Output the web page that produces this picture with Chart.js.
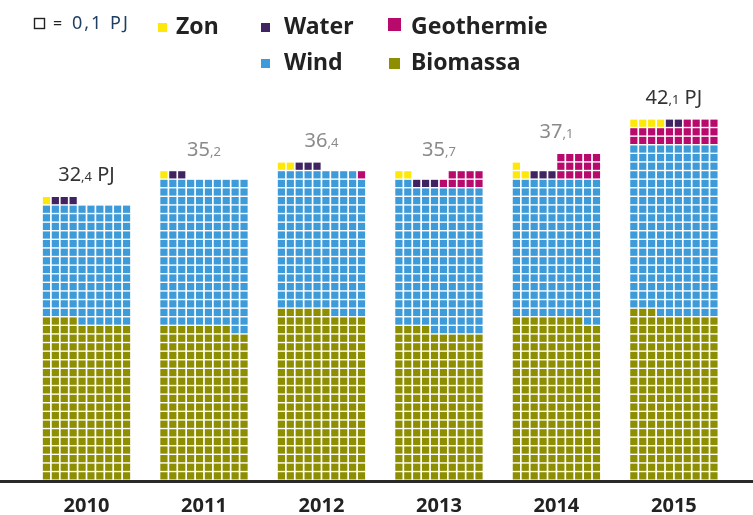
<!DOCTYPE html>
<html><head><meta charset="utf-8">
<script src="https://cdn.jsdelivr.net/npm/chart.js@4/dist/chart.umd.min.js"></script>
<style>html,body{margin:0;padding:0;background:#fff;}#wrap{position:relative;width:753px;height:515px;}</style>
</head><body><div id="wrap"><canvas id="c" width="753" height="515"></canvas></div>
<script>
// ---- data (PJ) ----
const years = ['2010', '2011', '2012', '2013', '2014', '2015'];
const totalLabels = ['32,4 PJ', '35,2', '36,4', '35,7', '37,1', '42,1 PJ'];
const biomassa   = [18.4, 17.8, 19.6, 17.4, 18.8, 19.3];
const wind       = [13.6, 17.2, 16.3, 16.8, 16.2, 19.7];
const geothermie = [0.0, 0.0, 0.1, 0.9, 1.5, 2.4];
const water      = [0.3, 0.2, 0.3, 0.3, 0.3, 0.2];
const zon        = [0.1, 0.1, 0.2, 0.2, 0.3, 0.4];
const cellValue = 0.1; // one square = 0,1 PJ

// ---- waffle layout (derived from the values) ----
const COLS = 10, GAP = 13.2;
function layoutYear(i) {
  const occ = {};
  const out = { bio: [], wind: [], geo: [], water: [], zon: [] };
  const n = v => Math.round(v / cellValue);
  const put = (arr, r, c) => { occ[r * COLS + c] = true; arr.push({ r, c }); };
  let k = 0;
  for (let j = 0; j < n(biomassa[i]); j++, k++) put(out.bio, Math.floor(k / COLS), k % COLS);
  for (let j = 0; j < n(wind[i]); j++, k++) put(out.wind, Math.floor(k / COLS), k % COLS);
  const base = Math.floor(k / COLS);
  let g = n(geothermie[i]); const gw = g >= 20 ? 10 : 5; let r = base;
  while (g > 0) { for (let c = COLS - 1; c >= COLS - gw && g > 0; c--) if (!occ[r * COLS + c]) { put(out.geo, r, c); g--; } r++; }
  let z = n(zon[i]); const zw = z >= 4 ? 4 : 2; r = base;
  while (occ[r * COLS]) r++;
  while (z > 0) { for (let c = 0; c < zw && z > 0; c++) if (!occ[r * COLS + c]) { put(out.zon, r, c); z--; } r++; }
  let w = n(water[i]); r = base;
  while (w > 0) { for (let c = 0; c < COLS && w > 0; c++) if (!occ[r * COLS + c]) { put(out.water, r, c); w--; } r++; }
  return out;
}
const layouts = years.map((_, i) => layoutYear(i));
const pts = key => layouts.flatMap((L, i) => L[key].map(p => ({ x: i * GAP + p.c + 0.5, y: p.r + 0.5, year: i })));

const series = [
  { key: 'zon', label: 'Zon', color: '#fde80a' },
  { key: 'water', label: 'Water', color: '#402462' },
  { key: 'geo', label: 'Geothermie', color: '#b70a6c' },
  { key: 'wind', label: 'Wind', color: '#3e9bd9' },
  { key: 'bio', label: 'Biomassa', color: '#8d8e00' }
];

const FONT = '"Noto Sans", "Open Sans", sans-serif';

const totalsPlugin = {
  id: 'totals',
  afterDatasetsDraw(chart) {
    const { ctx, scales: { x, y } } = chart;
    years.forEach((yr, i) => {
      let top = 0;
      chart.data.datasets.forEach(ds => ds.data.forEach(p => { if (p.year === i && p.y + 0.5 > top) top = p.y + 0.5; }));
      const cx = x.getPixelForValue(i * GAP + 5);
      const by = y.getPixelForValue(top) - 15;
      const m = totalLabels[i].match(/^(\d+)(,\d)(.*)$/);
      const parts = [[m[1], '20px ' + FONT], [m[2], '13px ' + FONT], [m[3], '20px ' + FONT]];
      ctx.save();
      ctx.textBaseline = 'alphabetic';
      let tw = 0;
      parts.forEach(p => { ctx.font = p[1]; tw += ctx.measureText(p[0]).width; });
      let px = cx - tw / 2;
      ctx.fillStyle = m[3].trim() ? '#333' : '#8a8a8a';
      parts.forEach(p => { ctx.font = p[1]; ctx.fillText(p[0], px, by); px += ctx.measureText(p[0]).width; });
      ctx.restore();
    });
  }
};

const legendPos = {
  Zon: { sx: 158, sy: 23, s: 9, tx: 176, ty: 34 },
  Water: { sx: 261, sy: 23, s: 9, tx: 284, ty: 34 },
  Geothermie: { sx: 388, sy: 18, s: 13, tx: 411, ty: 34 },
  Wind: { sx: 261, sy: 59, s: 9, tx: 284, ty: 70 },
  Biomassa: { sx: 389, sy: 58, s: 11, tx: 411, ty: 70 }
};
const legendPlugin = {
  id: 'waffleLegend',
  afterDraw(chart) {
    const { ctx } = chart;
    ctx.save();
    ctx.strokeStyle = '#222'; ctx.lineWidth = 1.4;
    ctx.strokeRect(34.5, 18.5, 10, 10);
    ctx.textBaseline = 'alphabetic';
    ctx.font = '16px ' + FONT;
    ctx.fillStyle = '#222'; ctx.fillText('=', 53, 29);
    ctx.font = '18px ' + FONT;
    if ('letterSpacing' in ctx) ctx.letterSpacing = '2px';
    ctx.fillStyle = '#1e3f63'; ctx.fillText('0,1 PJ', 72, 29);
    if ('letterSpacing' in ctx) ctx.letterSpacing = '0px';
    chart.data.datasets.forEach(ds => {
      const p = legendPos[ds.label];
      ctx.fillStyle = ds.backgroundColor;
      ctx.fillRect(p.sx, p.sy, p.s, p.s);
      ctx.fillStyle = '#222';
      ctx.font = 'bold 23px ' + FONT;
      ctx.fillText(ds.label, p.tx, p.ty);
    });
    ctx.restore();
  }
};

new Chart(document.getElementById('c'), {
  type: 'scatter',
  data: {
    datasets: series.map(s => ({
      label: s.label,
      data: pts(s.key),
      backgroundColor: s.color,
      pointStyle: 'rect',
      pointRadius: 5.1,
      pointHoverRadius: 5.1,
      pointBorderWidth: 0
    }))
  },
  options: {
    responsive: false,
    animation: false,
    devicePixelRatio: 1,
    layout: { autoPadding: false, padding: { top: 100, left: 0, right: 0, bottom: 0 } },
    plugins: { legend: { display: false }, tooltip: { enabled: false } },
    scales: {
      x: {
        type: 'linear',
        min: -42 / 8.9,
        max: (753 - 42) / 8.9,
        grid: { display: false },
        border: { display: true, color: '#2a2a2a', width: 3 },
        afterBuildTicks: s => { s.ticks = years.map((_, i) => ({ value: i * GAP + 5 })); },
        afterFit: s => { s.height = 34; },
        ticks: {
          autoSkip: false, maxRotation: 0, padding: 5,
          color: '#222',
          font: { family: FONT, size: 20, weight: 'bold' },
          callback: (v, idx) => years[idx]
        }
      },
      y: { display: false, min: -0.1, max: 44.2 }
    }
  },
  plugins: [totalsPlugin, legendPlugin]
});
</script></body></html>
